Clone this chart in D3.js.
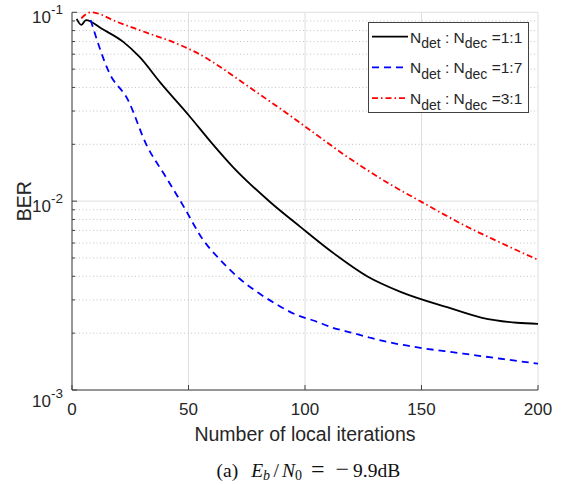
<!DOCTYPE html>
<html>
<head>
<meta charset="utf-8">
<script src="https://cdn.jsdelivr.net/npm/d3@7"></script>
<style>
  body { margin: 0; background: #fff; }
  svg { display: block; }
  .tick-label { font-family: 'Liberation Sans', Arial, sans-serif; fill: #262626; }
</style>
</head>
<body>
<svg id="chart" width="564" height="485"></svg>
<script>
// data
const iterBlack = [2, 4, 6, 13, 22, 29, 38, 50, 60, 69, 85, 98, 112, 127, 141, 162, 176, 191, 200];
const berBlack = [0.0922, 0.0857, 0.091, 0.0815, 0.0697, 0.058, 0.0423, 0.0286, 0.0203, 0.0152, 0.0099, 0.00731, 0.00533, 0.00398, 0.00331, 0.00272, 0.00241, 0.00227, 0.00224];

const iterBlue = [8, 16, 24, 32, 40, 48, 56, 64, 72, 80, 88, 96, 104, 112, 120, 128, 136, 144, 152, 160, 168, 176, 184, 192, 200];
const berBlue = [0.091, 0.0478, 0.0344, 0.0198, 0.0136, 0.00933, 0.00631, 0.00483, 0.00388, 0.00327, 0.00283, 0.00251, 0.002326, 0.002136, 0.00201, 0.001891, 0.00179, 0.001716, 0.001654, 0.001605, 0.001557, 0.00151, 0.001464, 0.00142, 0.001378];

const iterRed = [4, 8, 20, 32, 44, 52, 60, 68, 76, 84, 92, 100, 108, 116, 124, 132, 140, 150, 160, 170, 180, 190, 200];
const berRed = [0.093, 0.1, 0.0883, 0.078, 0.069, 0.06241, 0.05491, 0.04716, 0.04025, 0.03436, 0.02933, 0.02487, 0.0211, 0.0179, 0.01537, 0.01328, 0.01161, 0.00991, 0.00846, 0.00727, 0.00635, 0.00556, 0.00489];

const xTicks = [0, 50, 100, 150, 200];
const yTicks = [1e-3, 1e-2, 1e-1];
const yExponents = ['-3', '-2', '-1'];
const ratios = ['1:1', '1:7', '3:1'];

const seriesList = [
  { x: iterBlack, y: berBlack, color: '#000000', dash: null, ratio: ratios[0] },
  { x: iterBlue, y: berBlue, color: '#0000ff', dash: '7,5', ratio: ratios[1] },
  { x: iterRed, y: berRed, color: '#ff0000', dash: '6,3,1.5,3', ratio: ratios[2] }
];

const plotLeft = 72, plotRight = 538, plotTop = 12.3, plotBottom = 390;

const x = d3.scaleLinear().domain([0, 200]).range([plotLeft, plotRight]);
const y = d3.scaleLog().domain([1e-3, 1e-1]).range([plotBottom, plotTop]);

const svg = d3.select('#chart');

// minor grid (dotted)
const minorVals = [];
[1e-3, 1e-2].forEach(d => { for (let k = 2; k <= 9; k++) minorVals.push(d * k); });

const grid = svg.append('g').attr('class', 'grid');
grid.selectAll('line.minor')
  .data(minorVals)
  .enter()
  .append('line')
  .attr('x1', plotLeft).attr('x2', plotRight)
  .attr('y1', d => y(d)).attr('y2', d => y(d))
  .attr('stroke', '#c4c4c4')
  .attr('stroke-width', 1)
  .attr('stroke-dasharray', '1,2.5');

// major grid
grid.selectAll('line.hmajor')
  .data(yTicks)
  .enter()
  .append('line')
  .attr('x1', plotLeft).attr('x2', plotRight)
  .attr('y1', d => y(d)).attr('y2', d => y(d))
  .attr('stroke', '#dedede')
  .attr('stroke-width', 1);

grid.selectAll('line.vmajor')
  .data(xTicks)
  .enter()
  .append('line')
  .attr('x1', d => x(d)).attr('x2', d => x(d))
  .attr('y1', plotTop).attr('y2', plotBottom)
  .attr('stroke', '#dedede')
  .attr('stroke-width', 1);

// axes
const axisColor = '#404040';
svg.append('line')
  .attr('x1', plotLeft).attr('x2', plotLeft).attr('y1', plotTop).attr('y2', plotBottom)
  .attr('stroke', axisColor).attr('stroke-width', 1);
svg.append('line')
  .attr('x1', plotLeft).attr('x2', plotRight).attr('y1', plotBottom).attr('y2', plotBottom)
  .attr('stroke', axisColor).attr('stroke-width', 1);

// ticks, pointing inward
svg.selectAll('line.xt')
  .data(xTicks)
  .enter()
  .append('line')
  .attr('x1', d => x(d)).attr('x2', d => x(d))
  .attr('y1', plotBottom).attr('y2', plotBottom - 5)
  .attr('stroke', axisColor);

svg.selectAll('line.yt')
  .data(yTicks)
  .enter()
  .append('line')
  .attr('x1', plotLeft).attr('x2', plotLeft + 5)
  .attr('y1', d => y(d)).attr('y2', d => y(d))
  .attr('stroke', axisColor);

svg.selectAll('line.ymt')
  .data(minorVals)
  .enter()
  .append('line')
  .attr('x1', plotLeft).attr('x2', plotLeft + 3)
  .attr('y1', d => y(d)).attr('y2', d => y(d))
  .attr('stroke', axisColor);

// tick labels
svg.selectAll('text.xl')
  .data(xTicks)
  .enter()
  .append('text')
  .attr('class', 'tick-label')
  .attr('x', d => x(d))
  .attr('y', plotBottom + 25)
  .attr('text-anchor', 'middle')
  .style('font-size', '17px')
  .text(d => d);

const yl = svg.selectAll('text.yl')
  .data(yTicks)
  .enter()
  .append('text')
  .attr('class', 'tick-label')
  .attr('x', plotLeft - 9)
  .attr('y', (d, i) => y(d) + (i === 0 ? 17 : 11))
  .attr('text-anchor', 'end')
  .style('font-size', '17px');
yl.append('tspan').text('10');
yl.append('tspan')
  .attr('dy', -9)
  .style('font-size', '13.5px')
  .text((d, i) => yExponents[i]);

// axis titles
svg.append('text')
  .attr('class', 'tick-label')
  .attr('x', (plotLeft + plotRight) / 2)
  .attr('y', 440.5)
  .attr('text-anchor', 'middle')
  .style('font-size', '19.5px')
  .text('Number of local iterations');

svg.append('text')
  .attr('class', 'tick-label')
  .attr('transform', `translate(31,${y(1e-2)}) rotate(-90)`)
  .attr('text-anchor', 'middle')
  .style('font-size', '19.5px')
  .text('BER');

// curves
svg.append('clipPath')
  .attr('id', 'plot-clip')
  .append('rect')
  .attr('x', plotLeft).attr('y', plotTop - 3)
  .attr('width', plotRight - plotLeft).attr('height', plotBottom - plotTop + 3);

const line = d3.line()
  .x(d => x(d[0]))
  .y(d => y(d[1]))
  .curve(d3.curveMonotoneX);

svg.append('g')
  .attr('clip-path', 'url(#plot-clip)')
  .selectAll('path')
  .data(seriesList)
  .enter()
  .append('path')
  .attr('d', s => line(s.x.map((v, i) => [v, s.y[i]])))
  .attr('fill', 'none')
  .attr('stroke', s => s.color)
  .attr('stroke-width', 1.8)
  .attr('stroke-dasharray', s => s.dash);

// legend
const legend = svg.append('g').attr('class', 'legend');
legend.append('rect')
  .attr('x', 368.5).attr('y', 22.5)
  .attr('width', 160).attr('height', 90)
  .attr('fill', '#fff')
  .attr('stroke', '#404040')
  .attr('stroke-width', 1);

const rows = legend.selectAll('g.row')
  .data(seriesList)
  .enter()
  .append('g')
  .attr('transform', (d, i) => `translate(0,${36.7 + i * 30.7})`);

rows.append('line')
  .attr('x1', 372).attr('x2', 408)
  .attr('stroke', d => d.color)
  .attr('stroke-width', 1.8)
  .attr('stroke-dasharray', d => d.dash);

const lt = rows.append('text')
  .attr('class', 'tick-label')
  .attr('x', 410)
  .attr('y', 6)
  .style('font-size', '15.5px');
lt.append('tspan').text('N');
lt.append('tspan').attr('dy', 5.5).style('font-size', '14px').text('det');
lt.append('tspan').attr('dy', -5.5).text(' : N');
lt.append('tspan').attr('dy', 5.5).style('font-size', '14px').text('dec');
lt.append('tspan').attr('dy', -5.5).text(d => ' =' + d.ratio);

// caption
const cap = svg.append('text')
  .attr('x', 216.5)
  .attr('y', 477)
  .style('font-family', "'Liberation Serif', 'Times New Roman', serif")
  .style('font-size', '19.5px')
  .attr('fill', '#111');
cap.append('tspan').text('(a)');
cap.append('tspan').attr('dx', 13).style('font-style', 'italic').text('E');
cap.append('tspan').attr('dy', 3).style('font-style', 'italic').style('font-size', '14px').text('b');
cap.append('tspan').attr('dy', -3).attr('dx', 3.5).text('/');
cap.append('tspan').attr('dx', 3).style('font-style', 'italic').text('N');
cap.append('tspan').attr('dy', 3).style('font-size', '14px').text('0');
cap.append('tspan').attr('dy', -3).attr('dx', 9).style('font-size', '24px').text('=');
cap.append('tspan').attr('dx', 11).style('font-size', '24px').text('\u2212');
cap.append('tspan').attr('dx', 4).text('9.9dB');
</script>
</body>
</html>
